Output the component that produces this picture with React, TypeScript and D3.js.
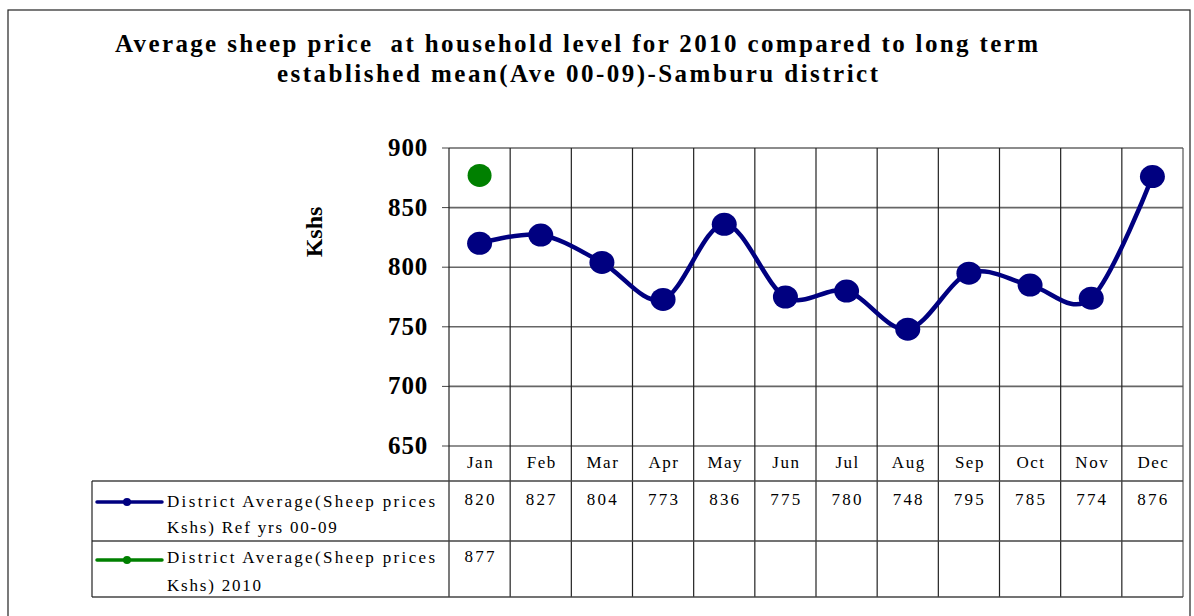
import React from 'react';
import * as d3 from 'd3';

// chart data
const months = ['Jan', 'Feb', 'Mar', 'Apr', 'May', 'Jun', 'Jul', 'Aug', 'Sep', 'Oct', 'Nov', 'Dec'];
const refValues = [820, 827, 804, 773, 836, 775, 780, 748, 795, 785, 774, 876];
const values2010 = [877];
const yTicks = [650, 700, 750, 800, 850, 900];
const titleLines = [
  'Average sheep price  at household level for 2010 compared to long term',
  'established mean(Ave 00-09)-Samburu district',
];
const seriesNames = [
  ['District Average(Sheep prices', 'Kshs) Ref yrs 00-09'],
  ['District Average(Sheep prices', 'Kshs) 2010'],
];

const W = 1194;
const H = 616;
const plot = { left: 449, right: 1183, top: 148, bottom: 446 };
const table = { left: 92, headBottom: 481, row1Bottom: 541, row2Bottom: 597 };
const NAVY = '#000080';
const GREEN = '#008000';
const serif = '"Liberation Serif", "DejaVu Serif", serif';

export default function App() {
  const x = d3.scaleBand<string>().domain(months).range([plot.left, plot.right]);
  const y = d3.scaleLinear().domain([650, 900]).range([plot.bottom, plot.top]);
  const cx = (m: string) => (x(m) ?? 0) + x.bandwidth() / 2;

  const line = d3.line<number>()
    .x((_, i) => cx(months[i]))
    .y(d => y(d))
    .curve(d3.curveCardinal.tension(0));

  const colEdges = months.map(m => x(m) ?? 0).concat([plot.right]);
  const seriesRows = [
    { vals: refValues, color: NAVY, top: table.headBottom, keyY: 502, l1: 507, l2: 533 },
    { vals: values2010, color: GREEN, top: table.row1Bottom, keyY: 560, l1: 563, l2: 591 },
  ];

  return (
    <svg width={W} height={H} style={{ position: 'absolute', left: 0, top: 0, background: '#fff' }}>
      {/* outer frame */}
      <rect x={8} y={10} width={1182} height={620} fill="none" stroke="#222" strokeWidth={1.2} />

      {/* title */}
      {titleLines.map((t, i) => (
        <text key={i} x={i === 0 ? 115 : 277} y={i === 0 ? 52 : 82}
          textLength={i === 0 ? 923 : 601} lengthAdjust="spacing" style={{ whiteSpace: 'pre' }}
          fontFamily={serif} fontWeight="bold" fontSize={25}>{t}</text>
      ))}

      {/* y axis title */}
      <text transform="translate(322,232) rotate(-90)" textAnchor="middle"
        fontFamily={serif} fontWeight="bold" fontSize={24}>Kshs</text>

      {/* horizontal gridlines + ticks */}
      {yTicks.map(t => (
        <g key={t}>
          <line x1={plot.left} x2={plot.right} y1={y(t)} y2={y(t)}
            stroke={t === 650 ? '#222' : '#666'} strokeWidth={t === 650 ? 1.2 : 1.6} />
          <line x1={plot.left - 7} x2={plot.left} y1={y(t)} y2={y(t)} stroke="#444" />
          <text x={428} y={y(t) + 8} textAnchor="end" fontFamily={serif} fontWeight="bold"
            fontSize={25} letterSpacing={0.8}>{t}</text>
        </g>
      ))}

      {/* vertical gridlines through the plot and data table */}
      {colEdges.map((e, i) => (
        <line key={i} x1={e} x2={e} y1={plot.top} y2={table.row2Bottom}
          stroke={i === colEdges.length - 1 ? '#555' : '#222'} strokeWidth={1.2} />
      ))}

      {/* table horizontal rules */}
      {[table.headBottom, table.row1Bottom, table.row2Bottom].map((yy, i) => (
        <line key={i} x1={table.left} x2={plot.right} y1={yy} y2={yy} stroke="#444" strokeWidth={1.3} />
      ))}
      <line x1={table.left} x2={table.left} y1={table.headBottom} y2={table.row2Bottom} stroke="#222" strokeWidth={1.2} />

      {/* month labels */}
      {months.map(m => (
        <text key={m} x={cx(m) + 1} y={468} textAnchor="middle" fontFamily={serif}
          fontSize={17} letterSpacing={1.5}>{m}</text>
      ))}

      {/* series rows: legend key + values */}
      {seriesRows.map((r, ri) => (
        <g key={ri}>
          <line x1={97} x2={162} y1={r.keyY} y2={r.keyY} stroke={r.color} strokeWidth={3.5} strokeLinecap="round" />
          <circle cx={127} cy={r.keyY} r={4} fill={r.color} />
          <text x={167} y={r.l1} textLength={268} lengthAdjust="spacing"
            fontFamily={serif} fontSize={17}>{seriesNames[ri][0]}</text>
          <text x={167} y={r.l2} fontFamily={serif} fontSize={17} letterSpacing={1.8}>{seriesNames[ri][1]}</text>
          {r.vals.map((v, i) => (
            <text key={i} x={cx(months[i]) + 1} y={r.l1 - (ri === 0 ? 2 : 1)} textAnchor="middle" fontFamily={serif}
              fontSize={17} letterSpacing={2.2}>{v}</text>
          ))}
        </g>
      ))}

      {/* reference series line */}
      <path d={line(refValues) ?? ''} fill="none" stroke={NAVY} strokeWidth={4.5} strokeLinejoin="round" />
      {refValues.map((v, i) => (
        <ellipse key={i} cx={cx(months[i])} cy={y(v)} rx={12.5} ry={11.5} fill={NAVY} />
      ))}

      {/* 2010 series */}
      {values2010.map((v, i) => (
        <ellipse key={i} cx={cx(months[i])} cy={y(v)} rx={12} ry={11.5} fill={GREEN} />
      ))}
    </svg>
  );
}
